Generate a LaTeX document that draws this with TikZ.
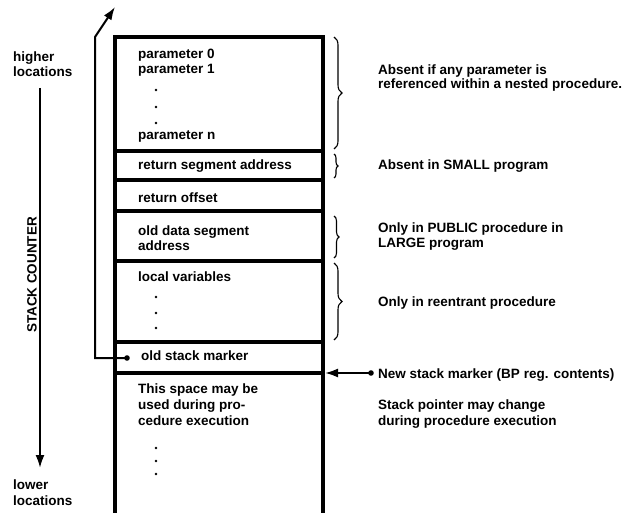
\documentclass[tikz,border=0pt]{standalone}
\usepackage{fontspec}
\setmainfont{Liberation Sans}
\usetikzlibrary{arrows.meta}
\usetikzlibrary{decorations.pathreplacing}

\tikzset{
  wall/.style = {line width = 3.2pt},
  txt/.style = {anchor = base west, inner sep = 0pt,
    font = \fontsize{13.5}{15}\selectfont\bfseries},
  curly/.style = {decorate, line width = 1.1pt,
    decoration = {brace, amplitude = #1}},
  tip/.style = {-{Latex[length = 13pt, width = 9pt]}, line width = 2pt}
}

\begin{document}
\begin{tikzpicture}[x = 1pt, y = -1pt]
  \useasboundingbox (0, 0) rectangle (634, 513);

  \coordinate (bl) at (115, 513);
  \coordinate (br) at (323, 513);
  \draw[wall] (bl) |- (323, 37) -- (br);

  \foreach \y in {151, 180, 211, 261, 342, 373}{
    \draw[wall] (115, \y) -- (323, \y);
  }

  \node[txt] (p0) at (138, 59) {parameter 0};
  \node[txt] (p1) at (138, 74) {parameter 1};
  \node[txt] (pn) at (138, 140) {parameter n};
  \node[txt] (rsa) at (138, 170) {return segment address};
  \node[txt] (ro) at (138, 202) {return offset};
  \node[txt] (ods) at (138, 235) {old data segment};
  \node[txt] (odsa) at (138, 250) {address};
  \node[txt] (lv) at (138, 281) {local variables};
  \node[txt] (osm) at (141, 360) {old stack marker};
  \node[txt] (sp1) at (138, 393) {This space may be};
  \node[txt] (sp2) at (138, 409) {used during pro-};
  \node[txt] (sp3) at (138, 425) {cedure execution};

  \foreach \y in {90, 107, 123, 297, 313, 328, 448, 461, 474}{
    \fill (156, \y) circle (1.4);
  }

  \node[txt] (hi) at (13, 62) {higher};
  \node[txt] (hil) at (13, 77) {locations};
  \node[txt] (lo) at (13, 489) {lower};
  \node[txt] (lol) at (13, 505) {locations};
  \node[txt, anchor = center, rotate = 90] (sc) at (32, 275) {STACK COUNTER};

  \coordinate (cnt) at (40, 88);
  \coordinate (cntend) at (40, 468);
  \draw[tip] (cnt) -- (cntend);

  \coordinate (old) at (127, 358);
  \coordinate (up) at (115, 7);
  \fill (old) circle (2.8);
  \draw[tip] (old) -| (95, 37) -- (up);

  \draw[curly = 8pt] (334, 37) -- (334, 149);
  \draw[curly = 4pt] (334, 154) -- (334, 178);
  \draw[curly = 5pt] (334, 216) -- (334, 258);
  \draw[curly = 8pt] (334, 263) -- (334, 340);

  \node[txt] (n1) at (378, 75) {Absent if any parameter is};
  \node[txt] (n1b) at (378, 89) {referenced within a nested procedure.};
  \node[txt] (n2) at (378, 170) {Absent in SMALL program};
  \node[txt] (n3) at (378, 232) {Only in PUBLIC procedure in};
  \node[txt] (n3b) at (378, 247) {LARGE program};
  \node[txt] (n4) at (378, 306) {Only in reentrant procedure};
  \node[txt] (n5) at (378, 378) {New stack marker (BP reg. contents)};
  \node[txt] (n6) at (378, 409) {Stack pointer may change};
  \node[txt] (n6b) at (378, 425) {during procedure execution};

  \coordinate (nsm) at (371, 373);
  \coordinate (bp) at (325, 373);
  \fill (nsm) circle (2.8);
  \draw[tip] (nsm) -- (bp);
\end{tikzpicture}
\end{document}
